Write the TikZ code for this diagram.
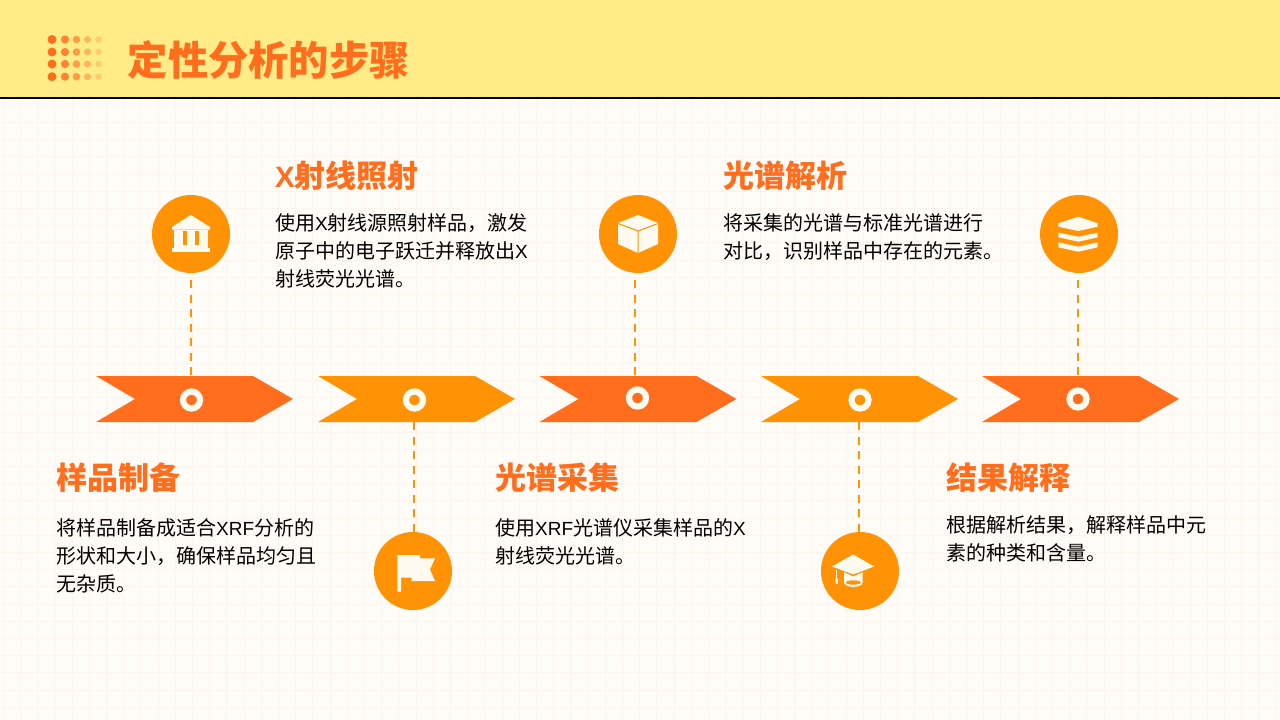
\documentclass[tikz,border=0pt]{standalone}
\usepackage{fontspec}
\setmainfont{Noto Sans CJK SC}
\newfontfamily\latf[Scale=0.95]{Liberation Sans}
\definecolor{bandc}{HTML}{FFEB87}
\definecolor{paper}{HTML}{FFFBF6}
\definecolor{gridc}{HTML}{FDF5ED}
\definecolor{redor}{HTML}{FF6D1D}
\definecolor{amber}{HTML}{FF9305}
\definecolor{ivory}{HTML}{FFFAF0}
\newcommand{\lat}[1]{{\latf #1}}
\tikzset{
 x=1pt,y=-1pt,
 chev/.style={fill=#1,draw=none},
 disc/.style={circle,fill=amber,minimum size=78pt,inner sep=0pt,draw=none},
 ring/.style={circle,fill=#1,draw=ivory,line width=6.2pt,minimum size=17pt,inner sep=0pt},
 link/.style={draw=amber,line width=2.2pt,dash pattern=on 8pt off 6.5pt},
 head/.style={anchor=west,inner sep=0pt,text=redor,font=\fontsize{31}{36}\selectfont\bfseries},
 body/.style={anchor=north west,inner sep=0pt,align=left,text=black,font=\fontsize{20}{28}\selectfont},
 icon/.style={fill=ivory,draw=none},
}
\begin{document}
\begin{tikzpicture}
\useasboundingbox (0,0) rectangle (1280,720);
\fill[paper] (0,0) rectangle (1280,720);
\foreach \i in {0,...,75}{\draw[gridc,line width=.6pt] ({\i*17.2+3},98) -- ({\i*17.2+3},720);}
\foreach \i in {0,...,37}{\draw[gridc,line width=.6pt] (0,{\i*17.2+105}) -- (1280,{\i*17.2+105});}
\fill[bandc] (0,0) rectangle (1280,98);
\draw[black,line width=1.8pt] (0,98) -- (1280,98);
% dots
\foreach \c/\xx/\o/\rr in {0/52/100/4.5,1/65/82/4.1,2/76.5/62/3.8,3/87.5/42/3.5,4/98.5/24/3.3}{
 \foreach \yy in {39.5,52,64,76.7}{
  \fill[redor,opacity=\o/100] (\xx,\yy) circle (\rr);
 }
}
\node[anchor=west,inner sep=0pt,text=redor,font=\fontsize{40.3}{48}\selectfont\bfseries] (title) at (127.5,60) {定性分析的步骤};
% chevrons
\foreach \n/\x/\c in {a/96/redor,b/318/amber,c/539.5/redor,d/761/amber,e/982/redor}{
 \fill[chev=\c] (\x,376) -- ({\x+157},376) -- ({\x+197},399) -- ({\x+157},422) -- (\x,422) -- ({\x+39},399) -- cycle;
}
\node[ring=redor] (ra) at (191.5,400) {};
\node[ring=amber] (rb) at (414.5,400) {};
\node[ring=redor] (rc) at (637.5,398) {};
\node[ring=amber] (rd) at (860,400) {};
\node[ring=redor] (re) at (1078,399) {};
% discs
\node[disc] (da) at (191,234) {};
\node[disc] (dc) at (638,234) {};
\node[disc] (de) at (1079,234) {};
\node[disc] (db) at (413,571) {};
\node[disc] (dd) at (860,571) {};
% links
\coordinate (la1) at (191,280); \coordinate (la2) at (191,376);
\coordinate (lb1) at (414,422); \coordinate (lb2) at (414,532);
\coordinate (lc1) at (635,280); \coordinate (lc2) at (635,376);
\coordinate (ld1) at (859,422); \coordinate (ld2) at (859,532);
\coordinate (le1) at (1078,280); \coordinate (le2) at (1078,376);
\draw[link] (la1) -- (la2);
\draw[link] (lb1) -- (lb2);
\draw[link] (lc1) -- (lc2);
\draw[link] (ld1) -- (ld2);
\draw[link] (le1) -- (le2);
% bank icon
\fill[icon] (190.8,215) -- (210,227) -- (210,229.5) -- (172,229.5) -- (172,227) -- cycle;
\fill[icon] (173.5,229.5) rectangle (207.5,248);
\fill[amber] (183.3,231) rectangle (187.3,245);
\fill[amber] (195,231) rectangle (199,245);
\fill[icon] (172,248) rectangle (210,251.7);
% cube icon
\fill[icon] (638,215) -- (658,223) -- (658,244) -- (638,253) -- (618,244) -- (618,223) -- cycle;
\draw[amber,line width=1pt] (618,223.5) -- (638,231) -- (658,223.5) (638,231) -- (638,253);
% layers icon
\fill[icon] (1078.3,216.7) -- (1097.7,223.3) -- (1097.7,226.7) -- (1078.3,231) -- (1058.3,226.7) -- (1058.3,223.3) -- cycle;
\fill[icon] (1058.3,232.7) -- (1078.3,236.7) -- (1097.7,232.7) -- (1097.7,237.3) -- (1078.3,241.7) -- (1058.3,237.3) -- cycle;
\fill[icon] (1058.3,242.3) -- (1078.3,246.7) -- (1097.7,242.3) -- (1097.7,247.3) -- (1078.3,251.7) -- (1058.3,247.3) -- cycle;
% flag icon
\fill[icon] (397.3,555) -- (420,555) -- (420,558.3) -- (435,558.3) -- (430,569.5) -- (435,581) -- (411.7,581) -- (411.7,577.7) -- (401,577.7) -- (401,591.7) -- (397.3,591.7) -- cycle;
% cap icon
\fill[icon] (844,572) -- (853.3,576.5) -- (862.7,572) -- (862.7,582) .. controls (862.7,588.5) and (844,588.5) .. (844,582) -- cycle;
\draw[amber,line width=1pt] (844,571.5) -- (853.3,575.5) -- (862.7,571.5);
\fill[icon] (853.3,554.5) -- (874,566.5) -- (853.3,574.5) -- (832,566.5) -- cycle;
\fill[icon] (836,570) rectangle (837.4,579);
\fill[icon] (836.7,581) ellipse (1.4 and 3.2);
\fill[amber] (853.3,582.5) ellipse (7.4 and 2.2);
% text
\node[head] (ha) at (56,478) {样品制备};
\node[body] (ta) at (56,518.5) {将样品制备成适合\lat{XRF}分析的\\形状和大小，确保样品均匀且\\无杂质。};
\node[head] (hb) at (275,176) {{\latf\bfseries X}射线照射};
\node[body] (tb) at (275,213.5) {使用\lat{X}射线源照射样品，激发\\原子中的电子跃迁并释放出\lat{X}\\射线荧光光谱。};
\node[head] (hc) at (495,478) {光谱采集};
\node[body] (tc) at (495,518.5) {使用\lat{XRF}光谱仪采集样品的\lat{X}\\射线荧光光谱。};
\node[head] (hd) at (723,176) {光谱解析};
\node[body] (td) at (723,213.5) {将采集的光谱与标准光谱进行\\对比，识别样品中存在的元素。};
\node[head] (he) at (946,478) {结果解释};
\node[body] (te) at (946,515) {根据解析结果，解释样品中元\\素的种类和含量。};
\end{tikzpicture}
\end{document}
